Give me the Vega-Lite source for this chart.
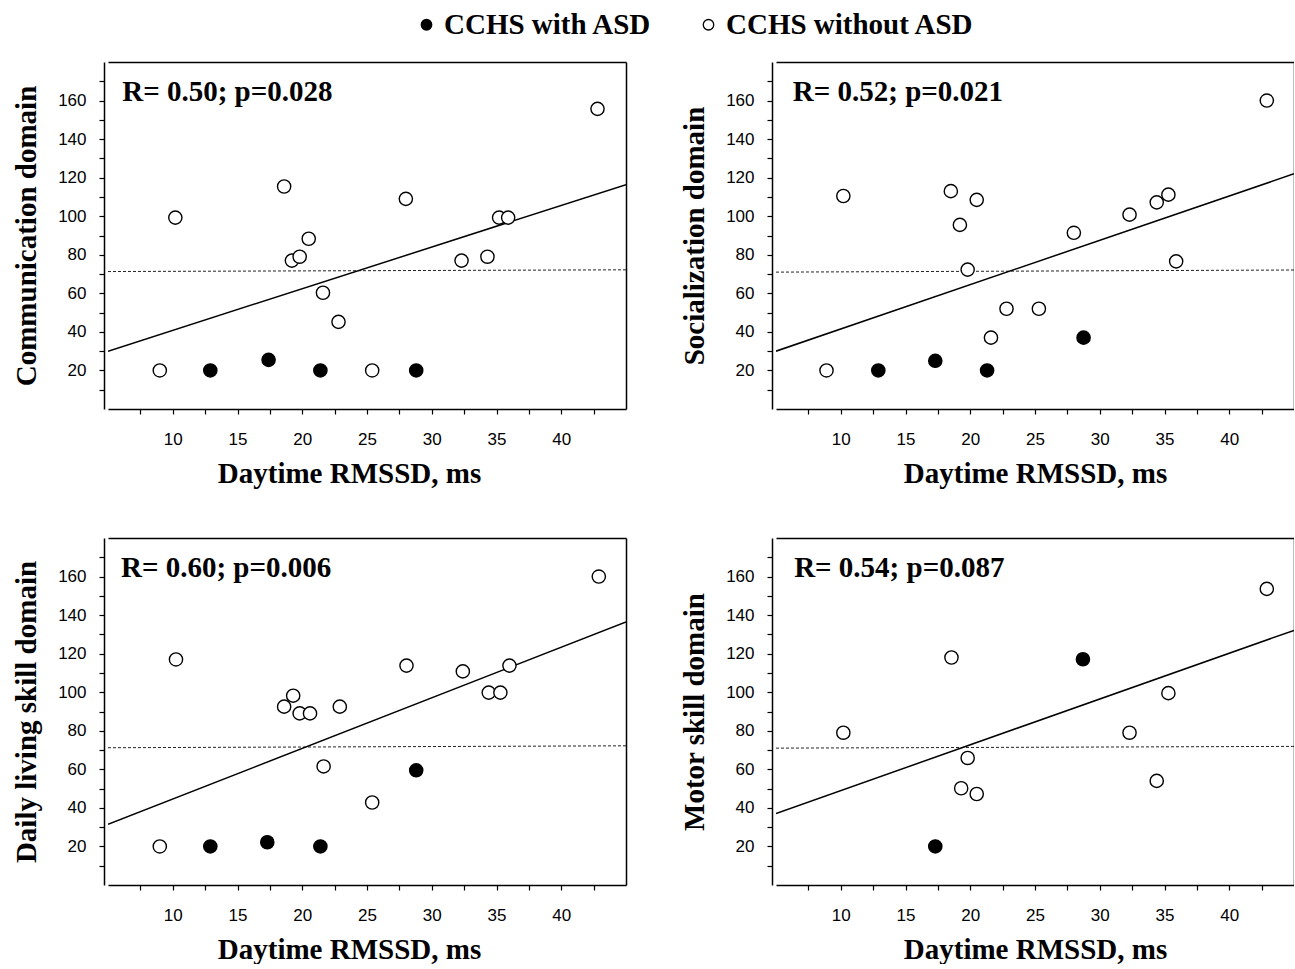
{
  "$schema": "https://vega.github.io/schema/vega-lite/v6.json",
  "background": "white",
  "padding": {"left": 12, "top": 10, "right": 0, "bottom": 0},
  "datasets": {
    "points": [
      {"panel": "Communication", "x": 9.0, "y": 20, "group": "CCHS without ASD"},
      {"panel": "Communication", "x": 12.9, "y": 20, "group": "CCHS with ASD"},
      {"panel": "Communication", "x": 17.4, "y": 25.5, "group": "CCHS with ASD"},
      {"panel": "Communication", "x": 21.4, "y": 20, "group": "CCHS with ASD"},
      {"panel": "Communication", "x": 25.4, "y": 20, "group": "CCHS without ASD"},
      {"panel": "Communication", "x": 28.8, "y": 20, "group": "CCHS with ASD"},
      {"panel": "Communication", "x": 10.2, "y": 99.3, "group": "CCHS without ASD"},
      {"panel": "Communication", "x": 18.6, "y": 115.4, "group": "CCHS without ASD"},
      {"panel": "Communication", "x": 20.5, "y": 88.3, "group": "CCHS without ASD"},
      {"panel": "Communication", "x": 19.2, "y": 77, "group": "CCHS without ASD"},
      {"panel": "Communication", "x": 19.8, "y": 79, "group": "CCHS without ASD"},
      {"panel": "Communication", "x": 21.6, "y": 60.3, "group": "CCHS without ASD"},
      {"panel": "Communication", "x": 22.8, "y": 45.2, "group": "CCHS without ASD"},
      {"panel": "Communication", "x": 28.0, "y": 109, "group": "CCHS without ASD"},
      {"panel": "Communication", "x": 32.3, "y": 77, "group": "CCHS without ASD"},
      {"panel": "Communication", "x": 34.3, "y": 79, "group": "CCHS without ASD"},
      {"panel": "Communication", "x": 35.2, "y": 99.3, "group": "CCHS without ASD"},
      {"panel": "Communication", "x": 35.9, "y": 99.3, "group": "CCHS without ASD"},
      {"panel": "Communication", "x": 42.8, "y": 155.7, "group": "CCHS without ASD"},

      {"panel": "Socialization", "x": 8.9, "y": 20, "group": "CCHS without ASD"},
      {"panel": "Socialization", "x": 12.9, "y": 20, "group": "CCHS with ASD"},
      {"panel": "Socialization", "x": 17.3, "y": 25, "group": "CCHS with ASD"},
      {"panel": "Socialization", "x": 21.3, "y": 20, "group": "CCHS with ASD"},
      {"panel": "Socialization", "x": 10.2, "y": 110.5, "group": "CCHS without ASD"},
      {"panel": "Socialization", "x": 18.5, "y": 113, "group": "CCHS without ASD"},
      {"panel": "Socialization", "x": 20.5, "y": 108.5, "group": "CCHS without ASD"},
      {"panel": "Socialization", "x": 19.2, "y": 95.5, "group": "CCHS without ASD"},
      {"panel": "Socialization", "x": 19.8, "y": 72.3, "group": "CCHS without ASD"},
      {"panel": "Socialization", "x": 21.6, "y": 37, "group": "CCHS without ASD"},
      {"panel": "Socialization", "x": 22.8, "y": 52, "group": "CCHS without ASD"},
      {"panel": "Socialization", "x": 25.3, "y": 52, "group": "CCHS without ASD"},
      {"panel": "Socialization", "x": 28.75, "y": 37, "group": "CCHS with ASD"},
      {"panel": "Socialization", "x": 28.0, "y": 91.4, "group": "CCHS without ASD"},
      {"panel": "Socialization", "x": 32.3, "y": 100.8, "group": "CCHS without ASD"},
      {"panel": "Socialization", "x": 34.4, "y": 107.2, "group": "CCHS without ASD"},
      {"panel": "Socialization", "x": 35.3, "y": 111.2, "group": "CCHS without ASD"},
      {"panel": "Socialization", "x": 35.9, "y": 76.6, "group": "CCHS without ASD"},
      {"panel": "Socialization", "x": 42.9, "y": 160, "group": "CCHS without ASD"},

      {"panel": "Daily", "x": 9.0, "y": 20, "group": "CCHS without ASD"},
      {"panel": "Daily", "x": 12.9, "y": 20, "group": "CCHS with ASD"},
      {"panel": "Daily", "x": 17.3, "y": 22.2, "group": "CCHS with ASD"},
      {"panel": "Daily", "x": 21.4, "y": 20, "group": "CCHS with ASD"},
      {"panel": "Daily", "x": 10.25, "y": 117, "group": "CCHS without ASD"},
      {"panel": "Daily", "x": 18.6, "y": 92.5, "group": "CCHS without ASD"},
      {"panel": "Daily", "x": 19.3, "y": 98.2, "group": "CCHS without ASD"},
      {"panel": "Daily", "x": 19.8, "y": 89, "group": "CCHS without ASD"},
      {"panel": "Daily", "x": 20.6, "y": 89, "group": "CCHS without ASD"},
      {"panel": "Daily", "x": 22.9, "y": 92.5, "group": "CCHS without ASD"},
      {"panel": "Daily", "x": 21.65, "y": 61.5, "group": "CCHS without ASD"},
      {"panel": "Daily", "x": 25.4, "y": 42.8, "group": "CCHS without ASD"},
      {"panel": "Daily", "x": 28.8, "y": 59.5, "group": "CCHS with ASD"},
      {"panel": "Daily", "x": 28.05, "y": 113.8, "group": "CCHS without ASD"},
      {"panel": "Daily", "x": 32.4, "y": 110.8, "group": "CCHS without ASD"},
      {"panel": "Daily", "x": 34.4, "y": 99.8, "group": "CCHS without ASD"},
      {"panel": "Daily", "x": 35.3, "y": 99.8, "group": "CCHS without ASD"},
      {"panel": "Daily", "x": 36.0, "y": 113.8, "group": "CCHS without ASD"},
      {"panel": "Daily", "x": 42.9, "y": 160, "group": "CCHS without ASD"},

      {"panel": "Motor", "x": 10.2, "y": 79, "group": "CCHS without ASD"},
      {"panel": "Motor", "x": 17.3, "y": 20, "group": "CCHS with ASD"},
      {"panel": "Motor", "x": 18.55, "y": 118, "group": "CCHS without ASD"},
      {"panel": "Motor", "x": 19.3, "y": 50.2, "group": "CCHS without ASD"},
      {"panel": "Motor", "x": 19.8, "y": 65.9, "group": "CCHS without ASD"},
      {"panel": "Motor", "x": 20.5, "y": 47.2, "group": "CCHS without ASD"},
      {"panel": "Motor", "x": 28.7, "y": 117.1, "group": "CCHS with ASD"},
      {"panel": "Motor", "x": 32.3, "y": 79, "group": "CCHS without ASD"},
      {"panel": "Motor", "x": 34.4, "y": 54, "group": "CCHS without ASD"},
      {"panel": "Motor", "x": 35.3, "y": 99.5, "group": "CCHS without ASD"},
      {"panel": "Motor", "x": 42.9, "y": 153.6, "group": "CCHS without ASD"}
    ],
    "lines": [
      {"panel": "Communication", "kind": "fit", "x": 5, "y": 30},
      {"panel": "Communication", "kind": "fit", "x": 45, "y": 116.4},
      {"panel": "Communication", "kind": "ref", "x": 5, "y": 71.3},
      {"panel": "Communication", "kind": "ref", "x": 45, "y": 72.2},
      {"panel": "Socialization", "kind": "fit", "x": 5, "y": 30},
      {"panel": "Socialization", "kind": "fit", "x": 45, "y": 122},
      {"panel": "Socialization", "kind": "ref", "x": 5, "y": 71},
      {"panel": "Socialization", "kind": "ref", "x": 45, "y": 72.1},
      {"panel": "Daily", "kind": "fit", "x": 5, "y": 31.5},
      {"panel": "Daily", "kind": "fit", "x": 45, "y": 136.5},
      {"panel": "Daily", "kind": "ref", "x": 5, "y": 71.2},
      {"panel": "Daily", "kind": "ref", "x": 45, "y": 72.2},
      {"panel": "Motor", "kind": "fit", "x": 5, "y": 37.1},
      {"panel": "Motor", "kind": "fit", "x": 45, "y": 132.1},
      {"panel": "Motor", "kind": "ref", "x": 5, "y": 71},
      {"panel": "Motor", "kind": "ref", "x": 45, "y": 71.9}
    ],
    "notes": [
      {"panel": "Communication", "label": "R= 0.50; p=0.028"},
      {"panel": "Socialization", "label": "R= 0.52; p=0.021"},
      {"panel": "Daily", "label": "R= 0.60; p=0.006"},
      {"panel": "Motor", "label": "R= 0.54; p=0.087"}
    ]
  },
  "columns": 2,
  "spacing": {"row": 129, "column": 150},
  "bounds": "flush",
  "resolve": {"scale": {"fill": "shared"}, "legend": {"fill": "shared"}},
  "concat": [
    {
      "width": 518, "height": 347,
      "resolve": {"scale": {"x": "independent", "y": "independent"}, "axis": {"x": "independent", "y": "independent"}},
      "layer": [
        {"data": {"name": "lines"}, "transform": [{"filter": "datum.panel == 'Communication' && datum.kind == 'ref'"}],
         "mark": {"type": "line", "stroke": "#222222", "strokeWidth": 1, "strokeDash": [3, 2], "clip": true},
         "encoding": {
           "x": {"field": "x", "type": "quantitative", "scale": {"domain": [5, 45], "nice": false, "zero": false},
                 "axis": {"title": "Daytime RMSSD, ms", "titleX": 241, "values": [7.5,10,12.5,15,17.5,20,22.5,25,27.5,30,32.5,35,37.5,40,42.5], "labelExpr": "datum.value % 5 == 0 ? datum.label : ''"}},
           "y": {"field": "y", "type": "quantitative", "scale": {"domain": [0, 180], "nice": false, "zero": false},
                 "axis": {"title": "Communication domain", "offset": 4, "values": [10,20,30,40,50,60,70,80,90,100,110,120,130,140,150,160,170], "labelExpr": "datum.value % 20 == 0 ? datum.label : ''"}}
         }},
        {"data": {"name": "lines"}, "transform": [{"filter": "datum.panel == 'Communication' && datum.kind == 'fit'"}],
         "mark": {"type": "line", "stroke": "black", "strokeWidth": 1.5, "clip": true},
         "encoding": {
           "x": {"field": "x", "type": "quantitative", "scale": {"domain": [5, 45], "nice": false, "zero": false}, "axis": null},
           "y": {"field": "y", "type": "quantitative", "scale": {"domain": [0, 180], "nice": false, "zero": false}, "axis": null}
         }},
        {"data": {"name": "points"}, "transform": [{"filter": "datum.panel == 'Communication'"}],
         "mark": {"type": "circle", "size": 175, "stroke": "black", "strokeWidth": 1.4, "opacity": 1, "fillOpacity": 1},
         "encoding": {
           "x": {"field": "x", "type": "quantitative", "scale": {"domain": [5, 45], "nice": false, "zero": false}, "axis": null},
           "y": {"field": "y", "type": "quantitative", "scale": {"domain": [0, 180], "nice": false, "zero": false}, "axis": null},
           "fill": {"field": "group", "type": "nominal", "scale": {"domain": ["CCHS with ASD", "CCHS without ASD"], "range": ["black", "white"]},
             "legend": {"title": null, "orient": "none", "legendX": 304, "legendY": -52, "direction": "horizontal", "padding": 0, "labelOffset": 3, "columnPadding": 42, "labelLimit": 0, "symbolType": "circle", "symbolSize": 110, "symbolStrokeColor": "black", "symbolStrokeWidth": 1.3, "symbolOpacity": 1}}
         }},
        {"data": {"name": "notes"}, "transform": [{"filter": "datum.panel == 'Communication'"}],
         "mark": {"type": "text", "align": "left", "baseline": "alphabetic", "font": "Liberation Serif", "fontWeight": "bold", "fontSize": 29, "fill": "black"},
         "encoding": {
           "x": {"datum": 6.1, "type": "quantitative", "scale": {"domain": [5, 45], "nice": false, "zero": false}, "axis": {"orient": "top", "title": null, "labels": false, "ticks": false, "domain": true}},
           "y": {"datum": 160, "type": "quantitative", "scale": {"domain": [0, 180], "nice": false, "zero": false}, "axis": {"orient": "right", "title": null, "labels": false, "ticks": false, "domain": true}},
           "text": {"field": "label"}
         }}
      ]
    },
    {
      "width": 518, "height": 347,
      "resolve": {"scale": {"x": "independent", "y": "independent"}, "axis": {"x": "independent", "y": "independent"}},
      "layer": [
        {"data": {"name": "lines"}, "transform": [{"filter": "datum.panel == 'Socialization' && datum.kind == 'ref'"}],
         "mark": {"type": "line", "stroke": "#222222", "strokeWidth": 1, "strokeDash": [3, 2], "clip": true},
         "encoding": {
           "x": {"field": "x", "type": "quantitative", "scale": {"domain": [5, 45], "nice": false, "zero": false},
                 "axis": {"title": "Daytime RMSSD, ms", "values": [7.5,10,12.5,15,17.5,20,22.5,25,27.5,30,32.5,35,37.5,40,42.5], "labelExpr": "datum.value % 5 == 0 ? datum.label : ''"}},
           "y": {"field": "y", "type": "quantitative", "scale": {"domain": [0, 180], "nice": false, "zero": false},
                 "axis": {"title": "Socialization domain", "offset": 4, "values": [10,20,30,40,50,60,70,80,90,100,110,120,130,140,150,160,170], "labelExpr": "datum.value % 20 == 0 ? datum.label : ''"}}
         }},
        {"data": {"name": "lines"}, "transform": [{"filter": "datum.panel == 'Socialization' && datum.kind == 'fit'"}],
         "mark": {"type": "line", "stroke": "black", "strokeWidth": 1.5, "clip": true},
         "encoding": {
           "x": {"field": "x", "type": "quantitative", "scale": {"domain": [5, 45], "nice": false, "zero": false}, "axis": null},
           "y": {"field": "y", "type": "quantitative", "scale": {"domain": [0, 180], "nice": false, "zero": false}, "axis": null}
         }},
        {"data": {"name": "points"}, "transform": [{"filter": "datum.panel == 'Socialization'"}],
         "mark": {"type": "circle", "size": 175, "stroke": "black", "strokeWidth": 1.4, "opacity": 1, "fillOpacity": 1},
         "encoding": {
           "x": {"field": "x", "type": "quantitative", "scale": {"domain": [5, 45], "nice": false, "zero": false}, "axis": null},
           "y": {"field": "y", "type": "quantitative", "scale": {"domain": [0, 180], "nice": false, "zero": false}, "axis": null},
           "fill": {"field": "group", "type": "nominal", "scale": {"domain": ["CCHS with ASD", "CCHS without ASD"], "range": ["black", "white"]},
             "legend": {"title": null, "orient": "none", "legendX": 304, "legendY": -52, "direction": "horizontal", "padding": 0, "labelOffset": 3, "columnPadding": 42, "labelLimit": 0, "symbolType": "circle", "symbolSize": 110, "symbolStrokeColor": "black", "symbolStrokeWidth": 1.3, "symbolOpacity": 1}}
         }},
        {"data": {"name": "notes"}, "transform": [{"filter": "datum.panel == 'Socialization'"}],
         "mark": {"type": "text", "align": "left", "baseline": "alphabetic", "font": "Liberation Serif", "fontWeight": "bold", "fontSize": 29, "fill": "black"},
         "encoding": {
           "x": {"datum": 6.3, "type": "quantitative", "scale": {"domain": [5, 45], "nice": false, "zero": false}, "axis": {"orient": "top", "title": null, "labels": false, "ticks": false, "domain": true}},
           "y": {"datum": 160, "type": "quantitative", "scale": {"domain": [0, 180], "nice": false, "zero": false}, "axis": {"orient": "right", "title": null, "labels": false, "ticks": false, "domain": true}},
           "text": {"field": "label"}
         }}
      ]
    },
    {
      "width": 518, "height": 347,
      "resolve": {"scale": {"x": "independent", "y": "independent"}, "axis": {"x": "independent", "y": "independent"}},
      "layer": [
        {"data": {"name": "lines"}, "transform": [{"filter": "datum.panel == 'Daily' && datum.kind == 'ref'"}],
         "mark": {"type": "line", "stroke": "#222222", "strokeWidth": 1, "strokeDash": [3, 2], "clip": true},
         "encoding": {
           "x": {"field": "x", "type": "quantitative", "scale": {"domain": [5, 45], "nice": false, "zero": false},
                 "axis": {"title": "Daytime RMSSD, ms", "titleX": 241, "values": [7.5,10,12.5,15,17.5,20,22.5,25,27.5,30,32.5,35,37.5,40,42.5], "labelExpr": "datum.value % 5 == 0 ? datum.label : ''"}},
           "y": {"field": "y", "type": "quantitative", "scale": {"domain": [0, 180], "nice": false, "zero": false},
                 "axis": {"title": "Daily living skill domain", "offset": 4, "values": [10,20,30,40,50,60,70,80,90,100,110,120,130,140,150,160,170], "labelExpr": "datum.value % 20 == 0 ? datum.label : ''"}}
         }},
        {"data": {"name": "lines"}, "transform": [{"filter": "datum.panel == 'Daily' && datum.kind == 'fit'"}],
         "mark": {"type": "line", "stroke": "black", "strokeWidth": 1.5, "clip": true},
         "encoding": {
           "x": {"field": "x", "type": "quantitative", "scale": {"domain": [5, 45], "nice": false, "zero": false}, "axis": null},
           "y": {"field": "y", "type": "quantitative", "scale": {"domain": [0, 180], "nice": false, "zero": false}, "axis": null}
         }},
        {"data": {"name": "points"}, "transform": [{"filter": "datum.panel == 'Daily'"}],
         "mark": {"type": "circle", "size": 175, "stroke": "black", "strokeWidth": 1.4, "opacity": 1, "fillOpacity": 1},
         "encoding": {
           "x": {"field": "x", "type": "quantitative", "scale": {"domain": [5, 45], "nice": false, "zero": false}, "axis": null},
           "y": {"field": "y", "type": "quantitative", "scale": {"domain": [0, 180], "nice": false, "zero": false}, "axis": null},
           "fill": {"field": "group", "type": "nominal", "scale": {"domain": ["CCHS with ASD", "CCHS without ASD"], "range": ["black", "white"]},
             "legend": {"title": null, "orient": "none", "legendX": 304, "legendY": -52, "direction": "horizontal", "padding": 0, "labelOffset": 3, "columnPadding": 42, "labelLimit": 0, "symbolType": "circle", "symbolSize": 110, "symbolStrokeColor": "black", "symbolStrokeWidth": 1.3, "symbolOpacity": 1}}
         }},
        {"data": {"name": "notes"}, "transform": [{"filter": "datum.panel == 'Daily'"}],
         "mark": {"type": "text", "align": "left", "baseline": "alphabetic", "font": "Liberation Serif", "fontWeight": "bold", "fontSize": 29, "fill": "black"},
         "encoding": {
           "x": {"datum": 6.0, "type": "quantitative", "scale": {"domain": [5, 45], "nice": false, "zero": false}, "axis": {"orient": "top", "title": null, "labels": false, "ticks": false, "domain": true}},
           "y": {"datum": 160, "type": "quantitative", "scale": {"domain": [0, 180], "nice": false, "zero": false}, "axis": {"orient": "right", "title": null, "labels": false, "ticks": false, "domain": true}},
           "text": {"field": "label"}
         }}
      ]
    },
    {
      "width": 518, "height": 347,
      "resolve": {"scale": {"x": "independent", "y": "independent"}, "axis": {"x": "independent", "y": "independent"}},
      "layer": [
        {"data": {"name": "lines"}, "transform": [{"filter": "datum.panel == 'Motor' && datum.kind == 'ref'"}],
         "mark": {"type": "line", "stroke": "#222222", "strokeWidth": 1, "strokeDash": [3, 2], "clip": true},
         "encoding": {
           "x": {"field": "x", "type": "quantitative", "scale": {"domain": [5, 45], "nice": false, "zero": false},
                 "axis": {"title": "Daytime RMSSD, ms", "values": [7.5,10,12.5,15,17.5,20,22.5,25,27.5,30,32.5,35,37.5,40,42.5], "labelExpr": "datum.value % 5 == 0 ? datum.label : ''"}},
           "y": {"field": "y", "type": "quantitative", "scale": {"domain": [0, 180], "nice": false, "zero": false},
                 "axis": {"title": "Motor skill domain", "offset": 4, "values": [10,20,30,40,50,60,70,80,90,100,110,120,130,140,150,160,170], "labelExpr": "datum.value % 20 == 0 ? datum.label : ''"}}
         }},
        {"data": {"name": "lines"}, "transform": [{"filter": "datum.panel == 'Motor' && datum.kind == 'fit'"}],
         "mark": {"type": "line", "stroke": "black", "strokeWidth": 1.5, "clip": true},
         "encoding": {
           "x": {"field": "x", "type": "quantitative", "scale": {"domain": [5, 45], "nice": false, "zero": false}, "axis": null},
           "y": {"field": "y", "type": "quantitative", "scale": {"domain": [0, 180], "nice": false, "zero": false}, "axis": null}
         }},
        {"data": {"name": "points"}, "transform": [{"filter": "datum.panel == 'Motor'"}],
         "mark": {"type": "circle", "size": 175, "stroke": "black", "strokeWidth": 1.4, "opacity": 1, "fillOpacity": 1},
         "encoding": {
           "x": {"field": "x", "type": "quantitative", "scale": {"domain": [5, 45], "nice": false, "zero": false}, "axis": null},
           "y": {"field": "y", "type": "quantitative", "scale": {"domain": [0, 180], "nice": false, "zero": false}, "axis": null},
           "fill": {"field": "group", "type": "nominal", "scale": {"domain": ["CCHS with ASD", "CCHS without ASD"], "range": ["black", "white"]},
             "legend": {"title": null, "orient": "none", "legendX": 304, "legendY": -52, "direction": "horizontal", "padding": 0, "labelOffset": 3, "columnPadding": 42, "labelLimit": 0, "symbolType": "circle", "symbolSize": 110, "symbolStrokeColor": "black", "symbolStrokeWidth": 1.3, "symbolOpacity": 1}}
         }},
        {"data": {"name": "notes"}, "transform": [{"filter": "datum.panel == 'Motor'"}],
         "mark": {"type": "text", "align": "left", "baseline": "alphabetic", "font": "Liberation Serif", "fontWeight": "bold", "fontSize": 29, "fill": "black"},
         "encoding": {
           "x": {"datum": 6.4, "type": "quantitative", "scale": {"domain": [5, 45], "nice": false, "zero": false}, "axis": {"orient": "top", "title": null, "labels": false, "ticks": false, "domain": true}},
           "y": {"datum": 160, "type": "quantitative", "scale": {"domain": [0, 180], "nice": false, "zero": false}, "axis": {"orient": "right", "title": null, "labels": false, "ticks": false, "domain": true}},
           "text": {"field": "label"}
         }}
      ]
    }
  ],
  "config": {
    "view": {"stroke": null},
    "axis": {
      "grid": false,
      "domainColor": "black", "domainWidth": 1.5,
      "tickColor": "black", "tickWidth": 1.2, "tickSize": 5,
      "labelFont": "Liberation Sans", "labelFontSize": 17, "labelColor": "black",
      "labelFlush": false, "labelOverlap": false,
      "titleFont": "Liberation Serif", "titleFontWeight": "bold", "titleFontSize": 29, "titleColor": "black"
    },
    "axisX": {"labelPadding": 17, "titlePadding": 12},
    "axisY": {"labelPadding": 13, "titlePadding": 16},
    "legend": {"labelFont": "Liberation Serif", "labelFontWeight": "bold", "labelFontSize": 29, "labelColor": "black"}
  }
}
